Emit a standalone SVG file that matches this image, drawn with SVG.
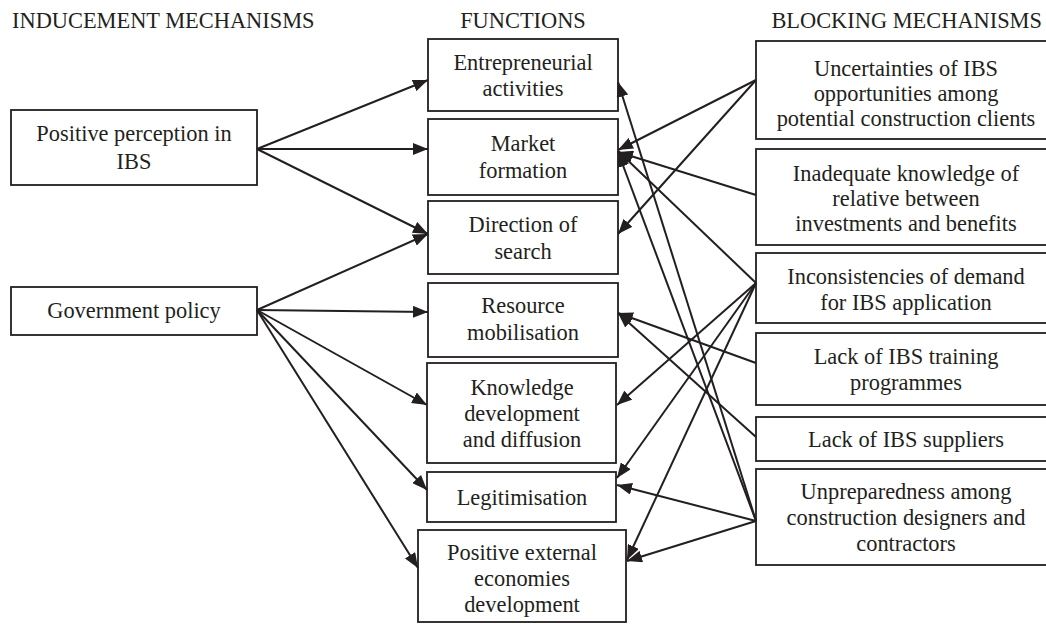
<svg xmlns="http://www.w3.org/2000/svg" width="1046" height="624" viewBox="0 0 1046 624">
<style>
  text { font-family: "Liberation Serif", "Times New Roman", serif; font-size: 22.4px; fill: #231f20; }
  .c { text-anchor: middle; }
  .box { fill: #ffffff; stroke: #231f20; stroke-width: 1.8; }
  .ln { stroke: #231f20; stroke-width: 2; fill: none; marker-end: url(#ah); }
</style>
<defs>
  <marker id="ah" markerUnits="userSpaceOnUse" markerWidth="16" markerHeight="12" refX="15" refY="6" orient="auto">
    <path d="M0,0 L15,6 L0,12 z" fill="#231f20"/>
  </marker>
</defs>
<rect width="1046" height="624" fill="#ffffff"/>

<g id="titles">
  <text x="12" y="28">INDUCEMENT MECHANISMS</text>
  <text x="523" y="28" class="c">FUNCTIONS</text>
  <text x="1042" y="28" text-anchor="end">BLOCKING MECHANISMS</text>
</g>

<!-- Inducement mechanisms -->
<g id="positive-perception">
  <rect class="box" x="11" y="110" width="246" height="75"/>
  <text x="134" y="141" class="c">Positive perception in</text>
  <text x="134" y="169" class="c">IBS</text>
</g>
<g id="government-policy">
  <rect class="box" x="11" y="287" width="246" height="48"/>
  <text x="134" y="318" class="c">Government policy</text>
</g>

<!-- Functions -->
<g id="entrepreneurial">
  <rect class="box" x="428" y="39" width="190" height="72"/>
  <text x="523" y="70" class="c">Entrepreneurial</text>
  <text x="523" y="96" class="c">activities</text>
</g>
<g id="market">
  <rect class="box" x="428" y="119" width="190" height="76"/>
  <text x="523" y="151" class="c">Market</text>
  <text x="523" y="178" class="c">formation</text>
</g>
<g id="direction">
  <rect class="box" x="428" y="201" width="190" height="73"/>
  <text x="523" y="232" class="c">Direction of</text>
  <text x="523" y="259" class="c">search</text>
</g>
<g id="resource">
  <rect class="box" x="428" y="283" width="190" height="74"/>
  <text x="523" y="313" class="c">Resource</text>
  <text x="523" y="340" class="c">mobilisation</text>
</g>
<g id="knowledge">
  <rect class="box" x="427" y="363" width="189" height="100"/>
  <text x="522" y="395" class="c">Knowledge</text>
  <text x="522" y="421" class="c">development</text>
  <text x="522" y="447" class="c">and diffusion</text>
</g>
<g id="legitimisation">
  <rect class="box" x="427" y="472" width="189" height="50"/>
  <text x="522" y="505" class="c">Legitimisation</text>
</g>
<g id="external">
  <rect class="box" x="418" y="530" width="208" height="92"/>
  <text x="522" y="560" class="c">Positive external</text>
  <text x="522" y="586" class="c">economies</text>
  <text x="522" y="612" class="c">development</text>
</g>

<!-- Blocking mechanisms -->
<g id="uncertainties">
  <rect class="box" x="756" y="41" width="300" height="98"/>
  <text x="906" y="76" class="c">Uncertainties of IBS</text>
  <text x="906" y="101" class="c">opportunities among</text>
  <text x="906" y="126" class="c">potential construction clients</text>
</g>
<g id="inadequate">
  <rect class="box" x="756" y="149" width="300" height="96"/>
  <text x="906" y="181" class="c">Inadequate knowledge of</text>
  <text x="906" y="206" class="c">relative between</text>
  <text x="906" y="231" class="c">investments and benefits</text>
</g>
<g id="inconsistencies">
  <rect class="box" x="756" y="253" width="300" height="70"/>
  <text x="906" y="284" class="c">Inconsistencies of demand</text>
  <text x="906" y="310" class="c">for IBS application</text>
</g>
<g id="training">
  <rect class="box" x="756" y="333" width="300" height="72"/>
  <text x="906" y="364" class="c">Lack of IBS training</text>
  <text x="906" y="390" class="c">programmes</text>
</g>
<g id="suppliers">
  <rect class="box" x="756" y="417" width="300" height="44"/>
  <text x="906" y="447" class="c">Lack of IBS suppliers</text>
</g>
<g id="unpreparedness">
  <rect class="box" x="756" y="469" width="300" height="96"/>
  <text x="906" y="499" class="c">Unpreparedness among</text>
  <text x="906" y="525" class="c">construction designers and</text>
  <text x="906" y="551" class="c">contractors</text>
</g>

<g id="connectors">
  <line class="ln" x1="257" y1="149" x2="428" y2="80"/>
  <line class="ln" x1="257" y1="149" x2="428" y2="149"/>
  <line class="ln" x1="257" y1="149" x2="428" y2="234"/>
  <line class="ln" x1="257" y1="310" x2="428" y2="234"/>
  <line class="ln" x1="257" y1="310" x2="428" y2="312"/>
  <line class="ln" x1="257" y1="310" x2="427" y2="405"/>
  <line class="ln" x1="257" y1="310" x2="427" y2="490"/>
  <line class="ln" x1="257" y1="310" x2="418" y2="568"/>

  <line class="ln" x1="756" y1="80" x2="618" y2="150"/>
  <line class="ln" x1="756" y1="80" x2="618" y2="234"/>
  <line class="ln" x1="756" y1="195" x2="618" y2="152"/>
  <line class="ln" x1="756" y1="283" x2="618" y2="151"/>
  <line class="ln" x1="756" y1="283" x2="617" y2="405"/>
  <line class="ln" x1="756" y1="283" x2="617" y2="478"/>
  <line class="ln" x1="756" y1="283" x2="627" y2="560"/>
  <line class="ln" x1="756" y1="363" x2="618" y2="313"/>
  <line class="ln" x1="756" y1="437" x2="618" y2="313"/>
  <line class="ln" x1="756" y1="521" x2="618" y2="82"/>
  <line class="ln" x1="756" y1="521" x2="618" y2="152"/>
  <line class="ln" x1="756" y1="521" x2="617" y2="485"/>
  <line class="ln" x1="756" y1="521" x2="627" y2="561"/>
</g>
</svg>
